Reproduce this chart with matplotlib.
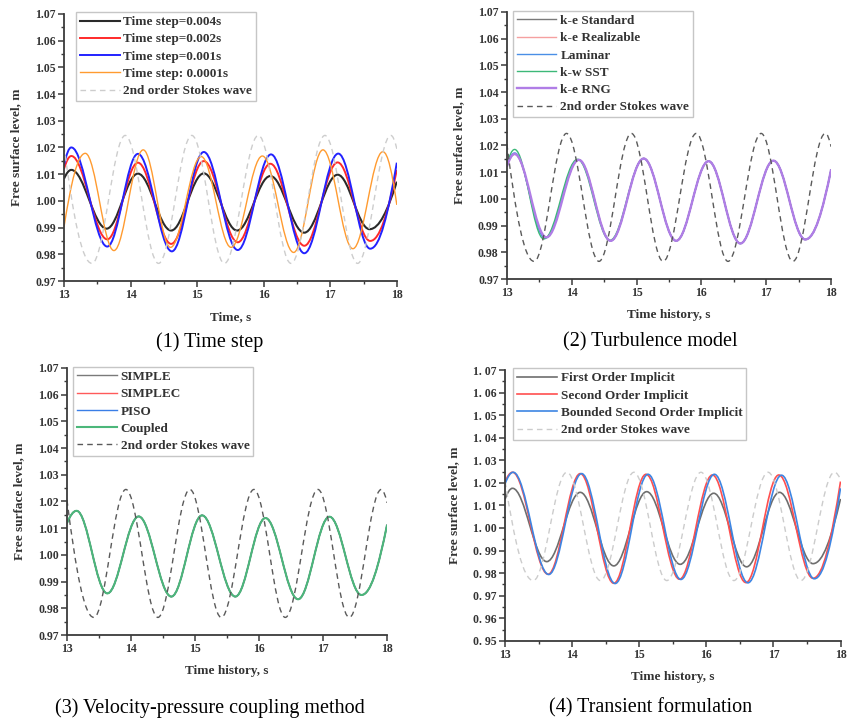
import matplotlib
matplotlib.use('Agg')
import matplotlib.pyplot as plt
from matplotlib.path import Path
from matplotlib.patches import PathPatch
from matplotlib.lines import Line2D

plt.rcParams['font.family'] = ['Liberation Serif', 'DejaVu Serif']

# ---- data: crest / trough times (s) and levels (m) ----
# (1) time step
ts004_t = [13.0, 13.11, 13.64, 14.11, 14.61, 15.10, 15.60, 16.10, 16.61, 17.11, 17.59, 18.0]
ts004_y = [1.0083, 1.0116, 0.9896, 1.0102, 0.9889, 1.0103, 0.9889, 1.0093, 0.9881, 1.0098, 0.9894, 1.0072]
ts002_t = [13.0, 13.11, 13.65, 14.11, 14.61, 15.10, 15.61, 16.10, 16.61, 17.11, 17.60, 18.0]
ts002_y = [1.0120, 1.0168, 0.9856, 1.0143, 0.9839, 1.0149, 0.9845, 1.0139, 0.9832, 1.0144, 0.9850, 1.0116]
ts001_t = [13.0, 13.11, 13.65, 14.11, 14.62, 15.10, 15.61, 16.11, 16.61, 17.12, 17.60, 18.0]
ts001_y = [1.0134, 1.0200, 0.9829, 1.0176, 0.9811, 1.0183, 0.9816, 1.0174, 0.9804, 1.0177, 0.9821, 1.0143]
ts0001_t = [13.0, 13.32, 13.75, 14.19, 14.60, 15.06, 15.51, 15.98, 16.45, 16.89, 17.34, 17.79, 18.0]
ts0001_y = [0.9903, 1.0178, 0.9814, 1.0191, 0.9826, 1.0166, 0.9826, 1.0168, 0.9807, 1.0191, 0.9821, 1.0184, 0.9985]

# 2nd order Stokes wave (same in every panel)
stokes_t = [13.0, 13.42, 13.92, 14.42, 14.92, 15.41, 15.92, 16.41, 16.92, 17.41, 17.91, 18.0]
stokes_y = [1.0205, 0.9766, 1.0245, 0.9766, 1.0245, 0.9766, 1.0245, 0.9766, 1.0245, 0.9766, 1.0245, 1.0195]

# (2) turbulence model
ke_std_t = [13.0, 13.12, 13.60, 14.11, 14.60, 15.11, 15.61, 16.11, 16.60, 17.11, 17.60, 18.0]
ke_std_y = [1.0121, 1.0168, 0.9855, 1.0146, 0.9843, 1.0151, 0.9843, 1.0141, 0.9833, 1.0143, 0.9848, 1.0111]
ke_real_t = [13.0, 13.12, 13.60, 14.11, 14.60, 15.11, 15.61, 16.11, 16.60, 17.11, 17.60, 18.0]
ke_real_y = [1.0121, 1.0167, 0.9856, 1.0145, 0.9844, 1.0151, 0.9843, 1.0141, 0.9833, 1.0143, 0.9848, 1.0111]
laminar_t = [13.0, 13.12, 13.59, 14.10, 14.60, 15.11, 15.61, 16.11, 16.60, 17.11, 17.60, 18.0]
laminar_y = [1.0122, 1.0172, 0.9853, 1.0147, 0.9843, 1.0151, 0.9843, 1.0141, 0.9833, 1.0143, 0.9848, 1.0111]
kw_sst_t = [13.0, 13.12, 13.57, 14.09, 14.59, 15.11, 15.61, 16.11, 16.60, 17.11, 17.60, 18.0]
kw_sst_y = [1.0128, 1.0185, 0.9850, 1.0148, 0.9845, 1.0151, 0.9843, 1.0141, 0.9833, 1.0143, 0.9848, 1.0111]
ke_rng_t = [13.0, 13.12, 13.61, 14.11, 14.60, 15.11, 15.61, 16.11, 16.60, 17.11, 17.60, 18.0]
ke_rng_y = [1.0121, 1.0168, 0.9856, 1.0146, 0.9843, 1.0151, 0.9843, 1.0141, 0.9833, 1.0143, 0.9848, 1.0111]

# (3) velocity-pressure coupling
simple_t = [13.0, 13.15, 13.63, 14.12, 14.63, 15.11, 15.63, 16.10, 16.61, 17.10, 17.60, 18.0]
simple_y = [1.0119, 1.0165, 0.9856, 1.0144, 0.9844, 1.0148, 0.9844, 1.0138, 0.9834, 1.0143, 0.9850, 1.0113]
simplec_y = [1.0119, 1.0165, 0.9856, 1.0144, 0.9844, 1.0148, 0.9844, 1.0138, 0.9834, 1.0143, 0.9850, 1.0113]
piso_y = [1.0119, 1.0165, 0.9856, 1.0144, 0.9844, 1.0148, 0.9844, 1.0138, 0.9834, 1.0143, 0.9850, 1.0113]
coupled_y = [1.0119, 1.0165, 0.9856, 1.0144, 0.9844, 1.0148, 0.9844, 1.0138, 0.9834, 1.0143, 0.9850, 1.0113]

# (4) transient formulation
first_t = [13.0, 13.11, 13.62, 14.12, 14.62, 15.11, 15.61, 16.11, 16.60, 17.09, 17.59, 18.0]
first_y = [1.0129, 1.0176, 0.9851, 1.0158, 0.9832, 1.0161, 0.9839, 1.0154, 0.9828, 1.0158, 0.9842, 1.0129]
second_t = [13.0, 13.11, 13.64, 14.12, 14.62, 15.10, 15.60, 16.09, 16.59, 17.08, 17.59, 18.0]
second_y = [1.0206, 1.0247, 0.9795, 1.0241, 0.9755, 1.0238, 0.9773, 1.0235, 0.9758, 1.0235, 0.9777, 1.0206]
bounded_t = [13.0, 13.12, 13.65, 14.14, 14.64, 15.13, 15.62, 16.12, 16.62, 17.12, 17.61, 18.0]
bounded_y = [1.0197, 1.0247, 0.9794, 1.0241, 0.9754, 1.0238, 0.9772, 1.0238, 0.9757, 1.0234, 0.9775, 1.0176]
stokes4_y = [1.0205, 0.9767, 1.0247, 0.9767, 1.0247, 0.9767, 1.0247, 0.9767, 1.0247, 0.9767, 1.0247, 1.0215]

x_ticks = [13, 14, 15, 16, 17, 18]
y_ticks_a = [0.97, 0.98, 0.99, 1.00, 1.01, 1.02, 1.03, 1.04, 1.05, 1.06, 1.07]
y_labels_a = ['0.97', '0.98', '0.99', '1.00', '1.01', '1.02', '1.03', '1.04', '1.05', '1.06', '1.07']
y_ticks_b = [0.95, 0.96, 0.97, 0.98, 0.99, 1.00, 1.01, 1.02, 1.03, 1.04, 1.05, 1.06, 1.07]
y_labels_b = ['0. 95', '0. 96', '0. 97', '0. 98', '0. 99', '1. 00', '1. 01', '1. 02', '1. 03',
              '1. 04', '1. 05', '1. 06', '1. 07']

K = 0.3642  # bezier handle for a half sine between crest and trough


def draw_wave(ax, t, y, color, lw, ls='-'):
    # smooth curve through the crests/troughs, flat at every extremum
    verts = [(t[0], y[0])]
    codes = [Path.MOVETO]
    n = len(t)
    for i in range(n - 1):
        dt = t[i + 1] - t[i]
        dy = y[i + 1] - y[i]
        if i == 0:
            c1 = (t[i] + dt / 3, y[i] + dy * 0.6)
        else:
            c1 = (t[i] + K * dt, y[i])
        if i == n - 2:
            c2 = (t[i + 1] - dt / 3, y[i + 1] - dy * 0.6)
        else:
            c2 = (t[i + 1] - K * dt, y[i + 1])
        verts += [c1, c2, (t[i + 1], y[i + 1])]
        codes += [Path.CURVE4] * 3
    ax.add_patch(PathPatch(Path(verts, codes), fill=False, edgecolor=color,
                           lw=lw, linestyle=ls, capstyle='butt'))
    return Line2D([], [], color=color, lw=lw, linestyle=ls)


def setup(ax, yticks, ylabels, xlabel):
    ax.set_xlim(13, 18)
    ax.set_ylim(yticks[0], yticks[-1])
    ax.set_xticks(x_ticks)
    ax.set_xticklabels([str(v) for v in x_ticks])
    ax.set_xticks([13.5, 14.5, 15.5, 16.5, 17.5], minor=True)
    ax.set_yticks(yticks)
    ax.set_yticklabels(ylabels)
    ax.set_yticks([v + 0.005 for v in yticks[:-1]], minor=True)
    for s in ['top', 'right']:
        ax.spines[s].set_visible(False)
    for s in ['left', 'bottom']:
        ax.spines[s].set_color('#3a3a3a')
        ax.spines[s].set_linewidth(1.3)
    ax.tick_params(which='major', direction='out', length=4, width=1.1,
                   color='#3a3a3a', labelsize=8.5, labelcolor='#333333', pad=2)
    ax.tick_params(which='minor', direction='out', length=2.5, width=1.0, color='#3a3a3a')
    for lab in ax.get_xticklabels() + ax.get_yticklabels():
        lab.set_fontweight('bold')
    ax.set_xlabel(xlabel, fontsize=9.5, fontweight='bold', color='#333333', labelpad=7)
    ax.set_ylabel('Free surface level, m', fontsize=9.5, fontweight='bold',
                  color='#333333', labelpad=9)


def legend(ax, handles, labels, x, y):
    leg = ax.legend(handles, labels, loc='upper left', bbox_to_anchor=(x, y),
                    prop={'size': 9.5, 'weight': 'bold'}, frameon=True, fancybox=False,
                    borderaxespad=0, borderpad=0.3, labelspacing=0.38,
                    handlelength=3.0, handletextpad=0.3)
    leg.get_frame().set_edgecolor('#b8b8b8')
    leg.get_frame().set_linewidth(1.0)
    for txt in leg.get_texts():
        txt.set_color('#333333')


fig = plt.figure(figsize=(8.49, 7.2), dpi=100)

# (1) Time step
ax1 = fig.add_axes([0.0754, 0.6097, 0.392, 0.371])
h = [draw_wave(ax1, ts004_t, ts004_y, '#2a2a2a', 1.5),
     draw_wave(ax1, ts002_t, ts002_y, '#ff2a2a', 1.4),
     draw_wave(ax1, ts001_t, ts001_y, '#2222ff', 1.4),
     draw_wave(ax1, ts0001_t, ts0001_y, '#ff9b30', 1.0),
     draw_wave(ax1, stokes_t, stokes_y, '#cdcdcd', 1.0, (0, (4, 3)))]
setup(ax1, y_ticks_a, y_labels_a, 'Time, s')
legend(ax1, h, ['Time step=0.004s', 'Time step=0.002s', 'Time step=0.001s',
                'Time step: 0.0001s', '2nd order Stokes wave'], 0.036, 1.007)

# (2) Turbulence model
ax2 = fig.add_axes([0.597, 0.6125, 0.382, 0.371])
h = [draw_wave(ax2, ke_std_t, ke_std_y, '#7a7a7a', 1.0),
     draw_wave(ax2, ke_real_t, ke_real_y, '#f5a0a0', 1.0),
     draw_wave(ax2, laminar_t, laminar_y, '#4a8fe6', 1.0),
     draw_wave(ax2, kw_sst_t, kw_sst_y, '#3cb878', 1.0),
     draw_wave(ax2, ke_rng_t, ke_rng_y, '#b07de6', 1.7),
     draw_wave(ax2, stokes_t, stokes_y, '#5a5a5a', 1.0, (0, (4, 3)))]
setup(ax2, y_ticks_a, y_labels_a, 'Time history, s')
legend(ax2, h, ['k-e Standard', 'k-e Realizable', 'Laminar', 'k-w SST', 'k-e RNG',
                '2nd order Stokes wave'], 0.0185, 1.004)

# (3) Velocity-pressure coupling method
ax3 = fig.add_axes([0.0789, 0.118, 0.377, 0.371])
h = [draw_wave(ax3, simple_t, simple_y, '#7a7a7a', 1.0),
     draw_wave(ax3, simple_t, simplec_y, '#ff5a5a', 1.0),
     draw_wave(ax3, simple_t, piso_y, '#3a7ee6', 1.0),
     draw_wave(ax3, simple_t, coupled_y, '#4cb77a', 1.5),
     draw_wave(ax3, stokes_t, stokes_y, '#5a5a5a', 1.0, (0, (4, 3)))]
setup(ax3, y_ticks_a, y_labels_a, 'Time history, s')
legend(ax3, h, ['SIMPLE', 'SIMPLEC', 'PISO', 'Coupled', '2nd order Stokes wave'],
       0.019, 1.004)

# (4) Transient formulation
ax4 = fig.add_axes([0.595, 0.110, 0.395, 0.376])
h = [draw_wave(ax4, first_t, first_y, '#6e6e6e', 1.2),
     draw_wave(ax4, second_t, second_y, '#ff4f4f', 1.2),
     draw_wave(ax4, bounded_t, bounded_y, '#3d85e3', 1.2),
     draw_wave(ax4, stokes_t, stokes4_y, '#cccccc', 1.0, (0, (4, 3)))]
setup(ax4, y_ticks_b, y_labels_b, 'Time history, s')
legend(ax4, h, ['First Order Implicit', 'Second Order Implicit',
                'Bounded Second Order Implicit', '2nd order Stokes wave'], 0.024, 1.007)

fig.text(0.247, 1 - 342 / 720, '(1) Time step', fontsize=14.5, ha='center', va='center')
fig.text(0.766, 1 - 342 / 720, '(2) Turbulence model', fontsize=14.5, ha='center', va='center')
fig.text(0.247, 1 - 708 / 720, '(3) Velocity-pressure coupling method', fontsize=14.5,
         ha='center', va='center')
fig.text(0.766, 1 - 708 / 720, '(4) Transient formulation', fontsize=14.5, ha='center',
         va='center')

fig.savefig('out.png', dpi=100, facecolor='white')
